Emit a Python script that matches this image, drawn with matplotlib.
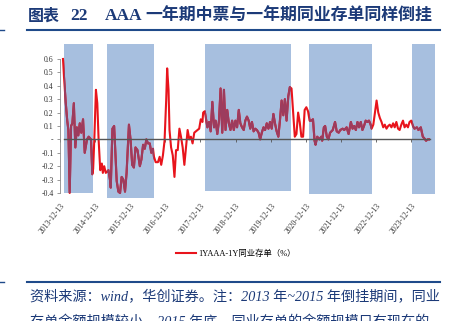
import matplotlib
matplotlib.use("Agg")
from matplotlib import pyplot as plt
from matplotlib.patches import Rectangle
from matplotlib.lines import Line2D

# years since 2013-12-13
t = [0.085, 0.113, 0.161, 0.206, 0.239, 0.276, 0.315, 0.352, 0.394, 0.437,
     0.479, 0.521, 0.563, 0.606, 0.656, 0.704, 0.769, 0.817, 0.882, 0.921,
     0.944, 0.977, 1.023, 1.062, 1.099, 1.146, 1.192, 1.220, 1.259, 1.304,
     1.380, 1.428, 1.445, 1.493, 1.541, 1.569, 1.614, 1.662, 1.710, 1.755,
     1.803, 1.851, 1.896, 1.963, 2.008, 2.056, 2.104, 2.149, 2.206, 2.273,
     2.318, 2.366, 2.414, 2.459, 2.507, 2.555, 2.600, 2.648, 2.676, 2.724,
     2.789, 2.837, 2.882, 2.930, 2.977, 3.023, 3.051, 3.090, 3.118, 3.163,
     3.211, 3.259, 3.304, 3.352, 3.400, 3.445, 3.493, 3.541, 3.586, 3.634,
     3.682, 3.727, 3.775, 3.823, 3.868, 3.915, 3.963, 4.008, 4.056, 4.076,
     4.121, 4.197, 4.245, 4.290, 4.338, 4.386, 4.431, 4.479, 4.527, 4.572,
     4.620, 4.668, 4.713, 4.761, 4.808, 4.854, 4.901, 4.949, 4.994, 5.042,
     5.090, 5.135, 5.183, 5.231, 5.276, 5.324, 5.372, 5.417, 5.465, 5.513,
     5.558, 5.606, 5.654, 5.699, 5.746, 5.794, 5.839, 5.887, 5.935, 5.980,
     6.028, 6.076, 6.121, 6.169, 6.217, 6.262, 6.310, 6.358, 6.403, 6.451,
     6.499, 6.544, 6.592, 6.640, 6.685, 6.732, 6.780, 6.825, 6.873, 6.921,
     6.966, 7.014, 7.062, 7.107, 7.155, 7.203, 7.248, 7.276, 7.324, 7.389,
     7.437, 7.465, 7.513, 7.549, 7.597, 7.642, 7.690, 7.766, 7.831, 7.879,
     7.935, 7.980, 8.048, 8.093, 8.161, 8.217, 8.282, 8.330, 8.375, 8.423,
     8.470, 8.515, 8.563, 8.611, 8.656, 8.704, 8.752, 8.797, 8.845, 8.873,
     8.921, 9.014, 9.062, 9.107, 9.155, 9.203, 9.248, 9.296, 9.344, 9.389,
     9.437, 9.485, 9.530, 9.577, 9.625, 9.670, 9.718, 9.766, 9.811, 9.859,
     9.907, 9.952, 10.000, 10.048, 10.093, 10.161, 10.206, 10.273, 10.330, 10.366,
     10.423, 10.470, 10.507]

spread = [0.60, 0.47, 0.28, 0.14, 0.07, -0.40, 0.10, 0.12, 0.27, -0.06,
          0.09, 0.03, 0.12, 0.05, 0.15, -0.10, 0.00, 0.02, 0.00, -0.26,
          -0.22, 0.00, 0.37, 0.27, 0.00, -0.23, -0.18, -0.25, -0.20, -0.25,
          -0.23, -0.31, -0.36, 0.08, 0.10, -0.06, -0.31, -0.39, -0.40, -0.28,
          -0.30, -0.39, -0.25, 0.11, 0.00, -0.19, -0.21, -0.06, -0.08, -0.20,
          -0.15, -0.04, -0.07, 0.00, -0.03, -0.03, -0.10, -0.07, -0.13, -0.17,
          -0.17, -0.13, -0.19, -0.12, -0.01, 0.29, 0.53, 0.37, 0.07, -0.06,
          -0.12, -0.28, -0.08, -0.08, 0.08, 0.02, -0.06, -0.19, -0.06, 0.07,
          0.00, 0.02, -0.03, 0.05, 0.06, 0.07, 0.08, 0.15, 0.13, 0.20,
          0.21, 0.09, 0.13, 0.06, 0.28, 0.09, 0.14, 0.04, 0.14, 0.38,
          0.05, 0.37, 0.07, 0.22, 0.12, 0.07, 0.14, 0.07, 0.14, 0.09,
          0.22, 0.12, 0.09, 0.07, 0.14, 0.17, 0.14, 0.08, 0.13, 0.06,
          0.08, 0.07, 0.05, 0.00, 0.05, 0.09, 0.07, 0.12, 0.08, 0.13,
          0.08, 0.19, 0.12, 0.06, 0.02, 0.14, 0.29, 0.18, 0.30, 0.14,
          0.32, 0.39, 0.38, 0.19, 0.02, 0.04, 0.20, 0.13, 0.02, 0.02,
          0.22, 0.24, 0.21, 0.14, 0.14, 0.15, -0.01, -0.04, 0.02, 0.00,
          0.02, -0.01, 0.09, 0.10, 0.02, 0.00, 0.05, 0.07, 0.13, 0.06,
          0.05, 0.07, 0.08, 0.07, 0.09, 0.04, 0.13, 0.08, 0.10, 0.07,
          0.13, 0.09, 0.13, 0.07, 0.10, 0.14, 0.13, 0.14, 0.11, 0.08,
          0.11, 0.29, 0.20, 0.16, 0.13, 0.09, 0.11, 0.08, 0.10, 0.11,
          0.09, 0.12, 0.09, 0.13, 0.08, 0.07, 0.11, 0.14, 0.09, 0.11,
          0.09, 0.13, 0.14, 0.10, 0.08, 0.09, 0.07, 0.09, 0.02, 0.01,
          -0.01, 0.00, 0.00]

# inverted periods (shaded)
shade_start = [0.113, 1.324, 4.141, 7.099, 10.028]
shade_end = [0.938, 2.676, 6.563, 8.873, 10.676]
shade_bottom = [-0.403, -0.44, -0.388, -0.41, -0.41]
shade_top = 0.709

year_ticks = list(range(0, 11))
year_labels = ["%d-12-13" % (2013 + i) for i in year_ticks]
y_ticks = [-0.4, -0.3, -0.2, -0.1, 0.0, 0.1, 0.2, 0.3, 0.4, 0.5, 0.6]

W, H = 458, 321
red = "#e8141c"
maroon = "#9c3c5e"
shade = "#a7bfdf"
navy = "#1c3a78"
serif_cjk = ["Liberation Serif", "Noto Sans CJK SC"]

fig = plt.figure(figsize=(W / 100, H / 100), dpi=100)
ax = fig.add_axes([60 / W, 1 - 199.7 / H, 375.1 / W, 156.8 / H])
ax.set_xlim(0.113, 10.68)
ax.set_ylim(-0.45, 0.72)

rects = []
for s, e, b in zip(shade_start, shade_end, shade_bottom):
    r = Rectangle((s, b), e - s, shade_top - b, facecolor=shade,
                  edgecolor="none", zorder=1, clip_on=False)
    ax.add_patch(r)
    rects.append(r)

ax.plot(t, spread, color=red, lw=1.5, zorder=3, label="1YAAA-1Y同业存单（%）")
for r in rects:
    ln, = ax.plot(t, spread, color=maroon, lw=1.5, zorder=4)
    ln.set_clip_path(r)

for sp in ["top", "right"]:
    ax.spines[sp].set_visible(False)
ax.spines["bottom"].set_position(("data", 0))
ax.spines["bottom"].set_bounds(0.113, 10.54)
ax.spines["bottom"].set_color("#555555")
ax.spines["bottom"].set_linewidth(1.0)
ax.spines["bottom"].set_zorder(5)
ax.spines["left"].set_bounds(-0.4, 0.6)
ax.spines["left"].set_color("#888888")
ax.spines["left"].set_linewidth(0.6)

ax.set_xticks(year_ticks)
ax.tick_params(axis="x", length=2, width=0.6, color="#555555", labelbottom=False)
ax.set_yticks(y_ticks)
ax.set_yticklabels(["-" if v == 0 else "%.1f" % v for v in y_ticks],
                   family="Liberation Serif", fontsize=5.6, color="#333333")
ax.tick_params(axis="y", length=2.5, width=0.6, color="#888888", pad=2)

sec = ax.secondary_xaxis("bottom")
sec.set_xticks(year_ticks)
sec.set_xticklabels(year_labels, rotation=52, ha="right", va="top",
                    rotation_mode="anchor", family="Liberation Serif",
                    fontsize=5.6, color="#333333")
sec.tick_params(length=0, pad=1.5)
sec.spines["bottom"].set_visible(False)

ax.legend(loc="center", bbox_to_anchor=(236 / W, 1 - 253.5 / H),
          bbox_transform=fig.transFigure, frameon=False, handlelength=2.4,
          handletextpad=0.3, prop={"family": serif_cjk, "size": 6.0})

# title
ty = 1 - 16 / H
fig.text(28 / W, ty, "图表", color=navy, fontsize=11.5, weight="bold",
         family="Noto Sans CJK SC", va="center")
fig.text(70 / W, ty, "22", color=navy, fontsize=12.5, weight="bold",
         family="Liberation Serif", va="center")
fig.text(105 / W, ty, "AAA", color=navy, fontsize=12.5, weight="bold",
         family="Liberation Serif", va="center")
fig.text(145 / W, ty, "一年期中票与一年期同业存单同样倒挂", color=navy,
         fontsize=12.2, weight="bold", family="Noto Sans CJK SC", va="center")

for yy in [29.5, 281.5]:
    fig.add_artist(Line2D([27 / W, 440 / W], [1 - yy / H, 1 - yy / H],
                          color="#1f4a8a", lw=1.5))
    fig.add_artist(Line2D([0, 4 / W], [1 - yy / H, 1 - yy / H],
                          color="#1f4a8a", lw=1.0))

fig.text(30 / W, 1 - 297 / H,
         "资料来源：wind，华创证券。注：2013 年~2015 年倒挂期间，同业",
         color=navy, fontsize=10.2, style="italic", family=serif_cjk,
         va="center")
fig.text(30 / W, 1 - 315 / H,
         "存单余额规模较小，2015 年底，同业存单的余额规模只有现在的",
         color=navy, fontsize=10.2, style="italic", family=serif_cjk,
         va="top")

fig.savefig("out.png", dpi=100)
